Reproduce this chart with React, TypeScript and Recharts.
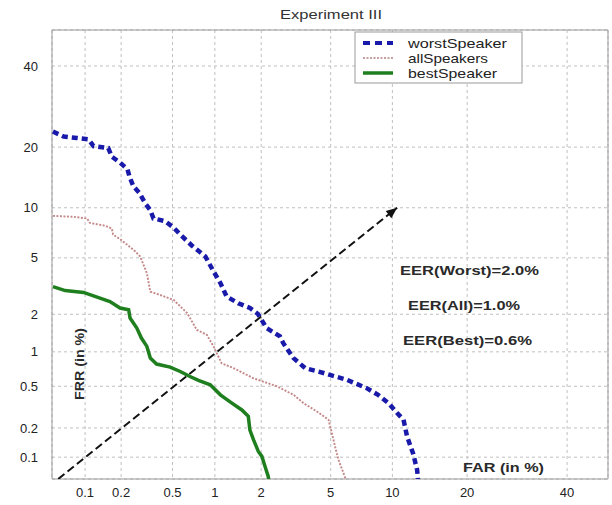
import { LineChart, Line, XAxis, YAxis, CartesianGrid, ReferenceArea } from 'recharts';

// DET plot: both axes on a normal-deviate (probit) scale, values in %
const TICKS = [0.1, 0.2, 0.5, 1, 2, 5, 10, 20, 40];
const X_RANGE = [0.051, 49.5];
const Y_RANGE = [0.058, 50.3];

const WORST_FAR = [0.052, 0.065, 0.085, 0.107, 0.118, 0.157, 0.168, 0.196, 0.225, 0.234, 0.251, 0.28, 0.31, 0.34, 0.36, 0.44, 0.51, 0.57, 0.69, 0.86, 0.98, 1.09, 1.2, 1.43, 1.7, 1.91, 2.16, 2.6, 2.72, 3.12, 3.63, 4.58, 6.06, 7.6, 8.6, 9.6, 10.5, 11.2, 11.6, 12.3, 12.8, 12.95];
const WORST_FRR = [23.3, 22.2, 21.9, 21.6, 20.2, 19.8, 18.1, 17.0, 15.8, 14.5, 13.0, 12.0, 10.6, 9.7, 8.7, 8.4, 7.7, 7.0, 6.0, 5.1, 4.06, 3.38, 2.71, 2.42, 2.23, 2.01, 1.56, 1.34, 1.18, 0.885, 0.726, 0.657, 0.572, 0.48, 0.417, 0.349, 0.28, 0.241, 0.164, 0.11, 0.073, 0.05];

const ALL_FAR = [0.052, 0.079, 0.104, 0.11, 0.148, 0.168, 0.172, 0.196, 0.23, 0.26, 0.284, 0.32, 0.34, 0.4, 0.51, 0.64, 0.75, 0.88, 0.98, 1.11, 1.33, 1.79, 2.49, 3.12, 3.55, 4.22, 4.87, 5.07, 5.27, 5.49, 5.82, 6.06];
const ALL_FRR = [9.0, 8.9, 8.7, 8.2, 7.9, 7.6, 7.0, 6.56, 5.96, 5.49, 5.1, 3.96, 2.94, 2.79, 2.56, 2.04, 1.51, 1.38, 1.11, 0.8, 0.726, 0.59, 0.5, 0.417, 0.349, 0.29, 0.241, 0.178, 0.13, 0.094, 0.068, 0.053];

const BEST_FAR = [0.052, 0.067, 0.097, 0.118, 0.162, 0.196, 0.23, 0.236, 0.267, 0.29, 0.32, 0.34, 0.38, 0.48, 0.57, 0.67, 0.77, 0.93, 1.09, 1.3, 1.51, 1.66, 1.7, 1.79, 1.92, 2.02, 2.11, 2.21, 2.24];
const BEST_FRR = [3.19, 2.99, 2.9, 2.74, 2.49, 2.23, 2.16, 1.87, 1.56, 1.3, 1.11, 0.885, 0.787, 0.74, 0.678, 0.612, 0.564, 0.516, 0.417, 0.349, 0.3, 0.26, 0.19, 0.152, 0.115, 0.102, 0.08, 0.062, 0.05];

const DIAG_FAR = [0.058, 10.5];
const DIAG_FRR = [0.058, 10.0];

const EER_LABELS = ['EER(Worst)=2.0%', 'EER(All)=1.0%', 'EER(Best)=0.6%'];

// inverse normal CDF (Acklam)
function probit(p: number): number {
  const a = [-39.69683028665376, 220.9460984245205, -275.9285104469687, 138.357751867269, -30.66479806614716, 2.506628277459239];
  const b = [-54.47609879822406, 161.5858368580409, -155.6989798598866, 66.80131188771972, -13.28068155288572];
  const c = [-0.007784894002430293, -0.3223964580411365, -2.400758277161838, -2.549732539343734, 4.374664141464968, 2.938163982698783];
  const d = [0.007784695709041462, 0.3224671290700398, 2.445134137142996, 3.754408661907416];
  const lo = 0.02425;
  if (p < lo) {
    const q = Math.sqrt(-2 * Math.log(p));
    return (((((c[0] * q + c[1]) * q + c[2]) * q + c[3]) * q + c[4]) * q + c[5]) / ((((d[0] * q + d[1]) * q + d[2]) * q + d[3]) * q + 1);
  }
  if (p <= 1 - lo) {
    const q = p - 0.5;
    const r = q * q;
    return ((((((a[0] * r + a[1]) * r + a[2]) * r + a[3]) * r + a[4]) * r + a[5]) * q) / (((((b[0] * r + b[1]) * r + b[2]) * r + b[3]) * r + b[4]) * r + 1);
  }
  const q = Math.sqrt(-2 * Math.log(1 - p));
  return -(((((c[0] * q + c[1]) * q + c[2]) * q + c[3]) * q + c[4]) * q + c[5]) / ((((d[0] * q + d[1]) * q + d[2]) * q + d[3]) * q + 1);
}

const pct = (v: number) => probit(v / 100);
const toRows = (far: number[], frr: number[]) => far.map((f, i) => ({ x: pct(f), y: pct(frr[i]) }));

const worst = toRows(WORST_FAR, WORST_FRR);
const all = toRows(ALL_FAR, ALL_FRR);
const best = toRows(BEST_FAR, BEST_FRR);
const diag = toRows(DIAG_FAR, DIAG_FRR);

const tickVals = TICKS.map(pct);
const tickLabel = (v: number) => {
  let k = 0;
  tickVals.forEach((t, i) => { if (Math.abs(t - v) < Math.abs(tickVals[k] - v)) k = i; });
  return String(TICKS[k]);
};

const FONT = '"Liberation Sans", Arial, sans-serif';

function ArrowDot(props: any) {
  const { cx, cy, index, points } = props;
  if (index !== 1 || cx == null) return null;
  let ang = -Math.atan2(273, 340);
  if (points && points.length > 1) ang = Math.atan2(cy - points[0].y, cx - points[0].x);
  const L = 11, W = 4.5;
  const bx = cx - L * Math.cos(ang), by = cy - L * Math.sin(ang);
  const px = -Math.sin(ang) * W, py = Math.cos(ang) * W;
  return (
    <polygon
      key="arrow"
      points={`${cx},${cy} ${bx + px},${by + py} ${bx - px},${by - py}`}
      fill="#111"
    />
  );
}

export default function App() {
  return (
    <div style={{ position: 'absolute', left: 0, top: 0, width: 612, height: 505, background: '#fff' }}>
      <LineChart width={612} height={505} margin={{ top: 30, right: 4, bottom: 0, left: 0 }}>
        <CartesianGrid stroke="#c0c0c0" strokeDasharray="3 3" />
        <XAxis
          type="number"
          dataKey="x"
          domain={[pct(X_RANGE[0]), pct(X_RANGE[1])]}
          ticks={tickVals}
          tickFormatter={tickLabel}
          allowDataOverflow
          height={26}
          tickSize={0}
          tickMargin={9}
          axisLine={false}
          tick={{ fill: '#222', fontSize: 13, fontFamily: FONT }}
        />
        <YAxis
          type="number"
          dataKey="y"
          domain={[pct(Y_RANGE[0]), pct(Y_RANGE[1])]}
          ticks={tickVals}
          tickFormatter={tickLabel}
          allowDataOverflow
          width={52}
          tickSize={0}
          tickMargin={14}
          axisLine={false}
          tick={{ fill: '#222', fontSize: 13, fontFamily: FONT }}
        />
        <ReferenceArea
          x1={pct(X_RANGE[0])}
          x2={pct(X_RANGE[1])}
          y1={pct(Y_RANGE[0])}
          y2={pct(Y_RANGE[1])}
          fill="none"
          stroke="#999"
          strokeWidth={1}
        />
        <Line data={diag} dataKey="y" stroke="#111" strokeWidth={2} strokeDasharray="8 4" dot={<ArrowDot />} activeDot={false} isAnimationActive={false} />
        <Line data={all} dataKey="y" stroke="#c48888" strokeWidth={1.9} strokeDasharray="2 1.5" dot={false} isAnimationActive={false} />
        <Line data={best} dataKey="y" stroke="#1f7f1f" strokeWidth={3.5} dot={false} isAnimationActive={false} />
        <Line data={worst} dataKey="y" stroke="#1a1aaa" strokeWidth={4.5} strokeDasharray="6 4" dot={false} isAnimationActive={false} />

        <text x={331} y={19} textAnchor="middle" fontFamily={FONT} fontSize={13} fill="#333" textLength={102} lengthAdjust="spacingAndGlyphs">
          Experiment III
        </text>
        <text x={400} y={275} fontFamily={FONT} fontSize={13} fontWeight="bold" fill="#2a2a2a" textLength={139} lengthAdjust="spacingAndGlyphs">
          {EER_LABELS[0]}
        </text>
        <text x={408} y={310} fontFamily={FONT} fontSize={13} fontWeight="bold" fill="#2a2a2a" textLength={112} lengthAdjust="spacingAndGlyphs">
          {EER_LABELS[1]}
        </text>
        <text x={403} y={345} fontFamily={FONT} fontSize={13} fontWeight="bold" fill="#2a2a2a" textLength={129} lengthAdjust="spacingAndGlyphs">
          {EER_LABELS[2]}
        </text>
        <text x={463} y={472} fontFamily={FONT} fontSize={12} fontWeight="bold" fill="#2a2a2a" textLength={81} lengthAdjust="spacingAndGlyphs">
          FAR (in %)
        </text>
        <text x={0} y={0} transform="translate(84 364) rotate(-90)" textAnchor="middle" fontFamily={FONT} fontSize={12} fontWeight="bold" fill="#2a2a2a" textLength={72} lengthAdjust="spacingAndGlyphs">
          FRR (in %)
        </text>

        <g>
          <rect x={355} y={32} width={167} height={51} fill="#fff" stroke="#999" />
          <line x1={363} y1={43} x2={393} y2={43} stroke="#1a1aaa" strokeWidth={4} strokeDasharray="7 5" />
          <line x1={363} y1={58} x2={393} y2={58} stroke="#c8a0a0" strokeWidth={1.8} strokeDasharray="2 1.5" />
          <line x1={363} y1={73} x2={393} y2={73} stroke="#1f7f1f" strokeWidth={3.5} />
          <text x={408} y={47.5} fontFamily={FONT} fontSize={13} fill="#222" textLength={99} lengthAdjust="spacingAndGlyphs">worstSpeaker</text>
          <text x={408} y={62.5} fontFamily={FONT} fontSize={13} fill="#222" textLength={80} lengthAdjust="spacingAndGlyphs">allSpeakers</text>
          <text x={408} y={77.5} fontFamily={FONT} fontSize={13} fill="#222" textLength={89} lengthAdjust="spacingAndGlyphs">bestSpeaker</text>
        </g>
      </LineChart>
    </div>
  );
}
